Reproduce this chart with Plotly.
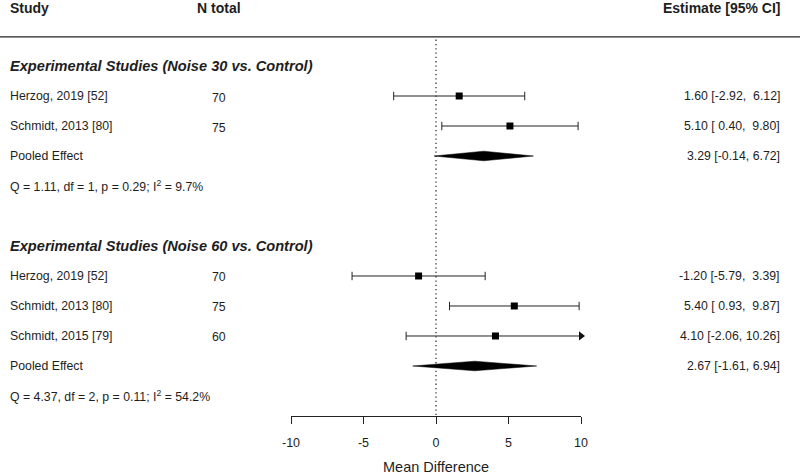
import plotly.graph_objects as go

# ---------------- data ----------------
group_titles = ["Experimental Studies (Noise 30 vs. Control)",
                "Experimental Studies (Noise 60 vs. Control)"]
group_rows = [0, 6]

studies = ["Herzog, 2019 [52]", "Schmidt, 2013 [80]",
           "Herzog, 2019 [52]", "Schmidt, 2013 [80]", "Schmidt, 2015 [79]"]
study_rows = [1, 2, 7, 8, 9]
n_total = [70, 75, 70, 75, 60]
est = [1.60, 5.10, -1.20, 5.40, 4.10]
lower = [-2.92, 0.40, -5.79, 0.93, -2.06]
upper = [6.12, 9.80, 3.39, 9.87, 10.26]
est_labels = ["1.60 [-2.92,  6.12]", "5.10 [ 0.40,  9.80]",
              "-1.20 [-5.79,  3.39]", "5.40 [ 0.93,  9.87]", "4.10 [-2.06, 10.26]"]

pooled_rows = [3, 10]
pooled_est = [3.29, 2.67]
pooled_lower = [-0.14, -1.61]
pooled_upper = [6.72, 6.94]
pooled_labels = ["3.29 [-0.14, 6.72]", "2.67 [-1.61, 6.94]"]

het_rows = [4, 11]
het_labels = ["Q = 1.11, df = 1, p = 0.29; I<sup>2</sup> = 9.7%",
              "Q = 4.37, df = 2, p = 0.11; I<sup>2</sup> = 54.2%"]

x_ticks = [-10, -5, 0, 5, 10]
x_min, x_max = -10, 10

# ---------------- layout constants ----------------
W, H = 800, 476
L, R, T, B = 291, 219, 0, 60
PW = W - L - R
FONT = "Liberation Sans, Arial, Helvetica, sans-serif"
TXT = "#1e1e1e"
BODY = 12.3
HEAD = 14
GROUP = 14.6


def px(p):
    return (p - L) / PW


fig = go.Figure()

# CI lines (clipped at axis limits)
cx, cy = [], []
for lo, hi, r in zip(lower, upper, study_rows):
    cx += [max(lo, x_min), min(hi, x_max), None]
    cy += [r, r, None]
fig.add_trace(go.Scatter(x=cx, y=cy, mode="lines",
                         line=dict(color="#222", width=1), hoverinfo="skip"))

# caps
capx, capy = [], []
for lo, hi, r in zip(lower, upper, study_rows):
    if lo >= x_min:
        capx.append(lo); capy.append(r)
    if hi <= x_max:
        capx.append(hi); capy.append(r)
fig.add_trace(go.Scatter(x=capx, y=capy, mode="markers", cliponaxis=False,
                         marker=dict(symbol="line-ns", size=6,
                                     line=dict(color="#222", width=1)),
                         hoverinfo="skip"))

# arrows where CI exceeds axis
ax_, ay_ = [], []
for hi, r in zip(upper, study_rows):
    if hi > x_max:
        ax_.append(x_max); ay_.append(r)
fig.add_trace(go.Scatter(x=ax_, y=ay_, mode="markers", cliponaxis=False,
                         marker=dict(symbol="triangle-right", size=8, color="#111",
                                     line=dict(width=0)),
                         hoverinfo="skip"))

# point estimates
fig.add_trace(go.Scatter(x=est, y=study_rows, mode="markers", cliponaxis=False,
                         marker=dict(symbol="square", size=7, color="#000",
                                     line=dict(width=0)),
                         hoverinfo="skip"))

# pooled diamonds
hh = 0.16
for pe, pl, pu, r in zip(pooled_est, pooled_lower, pooled_upper, pooled_rows):
    fig.add_trace(go.Scatter(x=[pl, pe, pu, pe, pl], y=[r, r - hh, r, r + hh, r],
                             mode="lines", fill="toself", fillcolor="#000",
                             line=dict(color="#000", width=0.5), hoverinfo="skip"))

# reference line at 0 (dotted)
fig.add_shape(type="line", xref="x", yref="y", x0=0, x1=0, y0=-0.88, y1=11.667,
              line=dict(color="#333", width=1.3, dash="1.3px,3px"), layer="below")

# header rule
fig.add_shape(type="line", xref="paper", yref="y", x0=px(0), x1=px(800),
              y0=-0.97, y1=-0.97, line=dict(color="#222", width=1.2))

ann = []


def add_text(text, xp, y, anchor="left", size=BODY, bold=False, italic=False):
    t = text
    if bold:
        t = "<b>" + t + "</b>"
    if italic:
        t = "<i>" + t + "</i>"
    ann.append(dict(text=t, x=px(xp), y=y, xref="paper", yref="y",
                    xanchor=anchor, yanchor="middle", showarrow=False,
                    font=dict(family=FONT, size=size, color=TXT)))


# headers
add_text("Study", 8, -1.93, size=HEAD, bold=True)
add_text("N total", 195, -1.93, size=HEAD, bold=True)
add_text("Estimate [95% CI]", 782, -1.93, anchor="right", size=HEAD, bold=True)

for t, r in zip(group_titles, group_rows):
    add_text(t, 8, r, size=GROUP, bold=True, italic=True)

for s, n, lab, r in zip(studies, n_total, est_labels, study_rows):
    add_text(s, 8, r)
    add_text(str(n), 210, r + 0.05)
    add_text(lab, 782, r, anchor="right")

for lab, r in zip(pooled_labels, pooled_rows):
    add_text("Pooled Effect", 8, r)
    add_text(lab, 782, r, anchor="right")

for lab, r in zip(het_labels, het_rows):
    add_text(lab, 8, r)

# axis title
ann.append(dict(text="Mean Difference", x=0.5, y=-51 / (H - T - B), xref="paper",
                yref="paper", xanchor="center", yanchor="middle", showarrow=False,
                font=dict(family=FONT, size=14.5, color=TXT)))

fig.update_layout(
    width=W, height=H, margin=dict(l=L, r=R, t=T, b=B),
    plot_bgcolor="white", paper_bgcolor="white", showlegend=False,
    annotations=ann,
    xaxis=dict(range=[x_min, x_max], tickvals=x_ticks,
               ticktext=[str(v) for v in x_ticks], showgrid=False, zeroline=False,
               showline=True, linecolor="#222", linewidth=1.2, ticks="outside",
               ticklen=7, tickwidth=1.2, tickcolor="#222", ticklabelstandoff=8,
               tickfont=dict(family=FONT, size=12.5, color=TXT), fixedrange=True),
    yaxis=dict(range=[11.667, -2.2], visible=False, fixedrange=True),
)

fig.write_html("out.html", config={"displayModeBar": False},
               post_script="document.body.style.margin='0px';"
                           "document.body.style.overflow='hidden';")
